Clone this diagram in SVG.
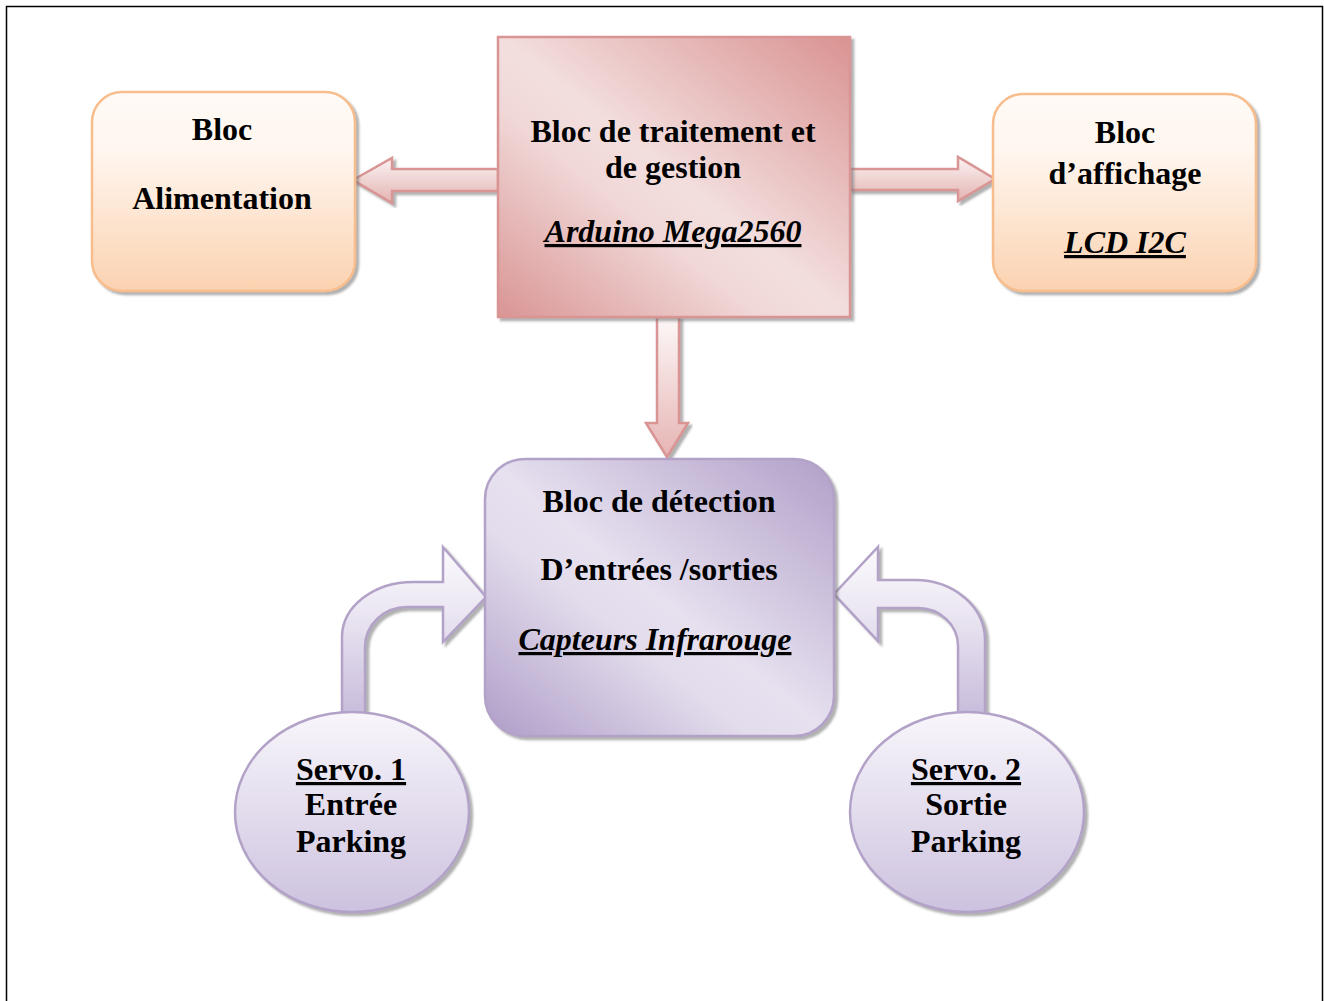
<svg xmlns="http://www.w3.org/2000/svg" width="1324" height="1001" viewBox="0 0 1324 1001">
<defs>
<linearGradient id="gOrange" x1="0" y1="0" x2="0" y2="1">
<stop offset="0" stop-color="#fffaf6"/>
<stop offset="0.3" stop-color="#fff6ef"/>
<stop offset="1" stop-color="#fbd2b0"/>
</linearGradient>
<linearGradient id="gPink" x1="1" y1="0" x2="0" y2="1">
<stop offset="0" stop-color="#d99392"/>
<stop offset="0.5" stop-color="#f3dede"/>
<stop offset="0.62" stop-color="#f1d8d8"/>
<stop offset="1" stop-color="#d99594"/>
</linearGradient>
<linearGradient id="gPurple" x1="1" y1="0" x2="0" y2="1">
<stop offset="0" stop-color="#b1a0c8"/>
<stop offset="0.5" stop-color="#e6e0ef"/>
<stop offset="0.62" stop-color="#e3dcec"/>
<stop offset="1" stop-color="#ae9dc8"/>
</linearGradient>
<linearGradient id="gArrowH" x1="0" y1="0" x2="0" y2="1">
<stop offset="0" stop-color="#fbf3f3"/>
<stop offset="1" stop-color="#e3b3b2"/>
</linearGradient>
<linearGradient id="gArrowV" x1="0" y1="0" x2="0" y2="1">
<stop offset="0" stop-color="#fdf8f8"/>
<stop offset="1" stop-color="#e6b4b3"/>
</linearGradient>
<linearGradient id="gCurve" x1="0" y1="547" x2="0" y2="712" gradientUnits="userSpaceOnUse">
<stop offset="0" stop-color="#fbfafd"/>
<stop offset="0.4" stop-color="#ebe6f2"/>
<stop offset="1" stop-color="#c9bddc"/>
</linearGradient>
<linearGradient id="gEllipse" x1="0" y1="0" x2="0" y2="1">
<stop offset="0" stop-color="#f8f6fb"/>
<stop offset="1" stop-color="#cdc2df"/>
</linearGradient>
<filter id="sh" x="-10%" y="-10%" width="120%" height="120%">
<feDropShadow dx="3" dy="3" stdDeviation="1" flood-color="#6f6f6f" flood-opacity="0.55"/>
</filter>
</defs>
<style>
.t{font-family:"Liberation Serif","Times New Roman",serif;font-weight:bold;font-size:32px;fill:#000;text-anchor:middle}
.i{font-style:italic;text-decoration:underline}
.u{text-decoration:underline}
.orange{fill:url(#gOrange);stroke:#f8bd8c;stroke-width:2.5}
.pinkA{stroke:#d99594;stroke-width:2.5;stroke-linejoin:miter}
.purA{fill:url(#gCurve);stroke:#b3a2c8;stroke-width:2.5}
.ell{fill:url(#gEllipse);stroke:#b3a2c8;stroke-width:2.5}
</style>
<rect x="6.5" y="6.5" width="1316" height="1010" fill="#fff" stroke="#000" stroke-width="1.5"/>

<g id="connectors">
<polygon class="pinkA" fill="url(#gArrowH)" filter="url(#sh)" points="353,180 392,158 392,169 498,169 498,191 392,191 392,203"/>
<polygon class="pinkA" fill="url(#gArrowH)" filter="url(#sh)" points="850,169 958,169 958,157 995,179 958,201 958,190 850,190"/>
<polygon class="pinkA" fill="url(#gArrowV)" filter="url(#sh)" points="657,317 679,317 679,423 688,423 667,457 646,423 657,423"/>
<path class="purA" filter="url(#sh)" d="M342,714 L342,637 A71,55 0 0 1 413,582 L443,582 L443,547 L486,597 L443,642 L443,607 L407,607 A42,40 0 0 0 365,647 L365,714 Z"/>
<path class="purA" filter="url(#sh)" d="M985,714 L985,640 A70,60 0 0 0 915,580 L878,580 L878,547 L834,594 L878,641 L878,608 L918,608 A40,38 0 0 1 958,646 L958,714 Z"/>
</g>

<g id="alimentation">
<rect class="orange" x="92" y="92" width="263" height="199" rx="30" filter="url(#sh)"/>
<text class="t" x="222" y="140">Bloc</text>
<text class="t" x="222" y="209">Alimentation</text>
</g>

<g id="traitement">
<rect x="498" y="37" width="352" height="280" fill="url(#gPink)" stroke="#d99594" stroke-width="2.5" filter="url(#sh)"/>
<text class="t" x="673" y="142">Bloc de traitement et</text>
<text class="t" x="673" y="178">de gestion</text>
<text class="t i" x="673" y="242">Arduino Mega2560</text>
</g>

<g id="affichage">
<rect class="orange" x="993" y="94" width="263" height="197" rx="30" filter="url(#sh)"/>
<text class="t" x="1125" y="143">Bloc</text>
<text class="t" x="1125" y="184">d’affichage</text>
<text class="t i" x="1125" y="253">LCD I2C</text>
</g>

<g id="detection">
<rect x="485" y="459" width="349" height="277" rx="40" fill="url(#gPurple)" stroke="#b3a2c8" stroke-width="2.5" filter="url(#sh)"/>
<text class="t" x="659" y="512">Bloc de détection</text>
<text class="t" x="659" y="580">D’entrées /sorties</text>
<text class="t i" x="655" y="650">Capteurs Infrarouge</text>
</g>

<g id="servo1">
<ellipse class="ell" cx="352" cy="812" rx="117" ry="100" filter="url(#sh)"/>
<text class="t u" x="351" y="780">Servo. 1</text>
<text class="t" x="351" y="815">Entrée</text>
<text class="t" x="351" y="852">Parking</text>
</g>

<g id="servo2">
<ellipse class="ell" cx="967" cy="812" rx="117" ry="100" filter="url(#sh)"/>
<text class="t u" x="966" y="780">Servo. 2</text>
<text class="t" x="966" y="815">Sortie</text>
<text class="t" x="966" y="852">Parking</text>
</g>
</svg>
